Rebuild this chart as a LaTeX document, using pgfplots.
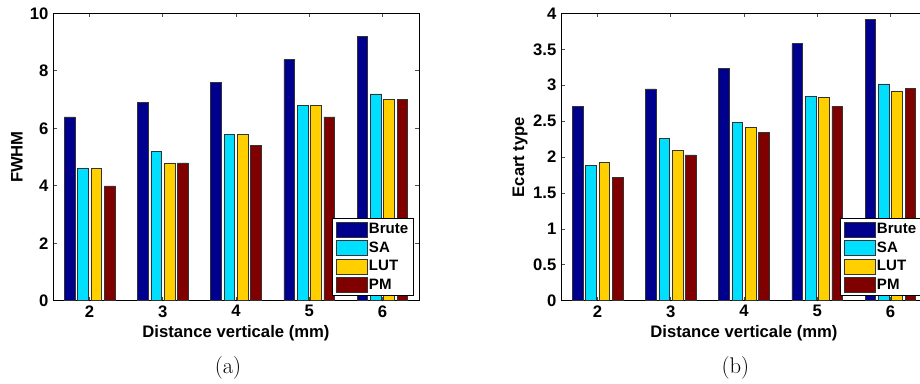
\documentclass[border=0pt]{standalone}
\usepackage{fontspec}
\usepackage{pgfplots}
\pgfplotsset{compat=1.18}
\newfontfamily\hv{Liberation Sans}
\definecolor{cBrute}{rgb}{0,0,0.5625}
\definecolor{cSA}{rgb}{0,0.875,1}
\definecolor{cLUT}{rgb}{1,0.8125,0}
\definecolor{cPM}{rgb}{0.5,0,0}
\pgfplotsset{
 myaxis/.style={
  scale only axis, width=274.5pt, height=215.5pt,
  xmin=1.5, xmax=6.5, ymin=0,
  xtick={2,3,4,5,6},
  ybar=2pt, bar width=8pt,
  tick pos=both, tick align=inside,
  major tick length=3pt,
  axis line style={line width=0.75pt},
  every tick/.style={black!70, line width=0.6pt},
  ticklabel style={font=\hv\bfseries\fontsize{12.5}{14}\selectfont},
  /pgf/number format/assume math mode=true,
  label style={font=\hv\bfseries\fontsize{12.5}{14}\selectfont},
  xlabel style={at={(axis description cs:0.5,-0.112)}, anchor=center},
  legend style={font=\hv\bfseries\fontsize{11.3}{13}\selectfont,
    at={(0.986,0.016)}, anchor=south east, draw=black, line width=0.75pt,
    fill=white, inner xsep=2.5pt, inner ysep=2pt, row sep=2pt,
    nodes={inner sep=1.3pt}},
  legend cell align=left,
  legend image code/.code={\draw[##1, line width=0.5pt] (0pt,-5.6pt) rectangle (23pt,5.6pt);},
 }
}
\begin{document}
\begin{tikzpicture}
\begin{axis}[myaxis, at={(39.75pt,61.7pt)}, anchor=south west,
  ymax=10, ytick={0,2,4,6,8,10},
  ylabel={FWHM},
  ylabel style={at={(axis description cs:-0.099,0.5)}, anchor=center},
  xlabel={Distance verticale (mm)}]
\addplot[fill=cBrute, draw=black!80, line width=0.4pt] coordinates {(2,6.4) (3,6.9) (4,7.6) (5,8.4) (6,9.2)};
\addplot[fill=cSA, draw=black!80, line width=0.4pt] coordinates {(2,4.6) (3,5.2) (4,5.8) (5,6.8) (6,7.2)};
\addplot[fill=cLUT, draw=black!80, line width=0.4pt] coordinates {(2,4.6) (3,4.8) (4,5.8) (5,6.8) (6,7.0)};
\addplot[fill=cPM, draw=black!80, line width=0.4pt] coordinates {(2,4.0) (3,4.8) (4,5.4) (5,6.4) (6,7.0)};
\legend{Brute,SA,LUT,PM}
\end{axis}
\begin{axis}[myaxis, at={(420.75pt,61.7pt)}, anchor=south west,
  ymax=4, ytick={0,0.5,1,1.5,2,2.5,3,3.5,4},
  ylabel={Ecart type},
  ylabel style={at={(axis description cs:-0.112,0.5)}, anchor=center},
  xlabel={Distance verticale (mm)}]
\addplot[fill=cBrute, draw=black!80, line width=0.4pt] coordinates {(2,2.71) (3,2.95) (4,3.23) (5,3.58) (6,3.92)};
\addplot[fill=cSA, draw=black!80, line width=0.4pt] coordinates {(2,1.88) (3,2.26) (4,2.48) (5,2.85) (6,3.02)};
\addplot[fill=cLUT, draw=black!80, line width=0.4pt] coordinates {(2,1.93) (3,2.09) (4,2.41) (5,2.83) (6,2.92)};
\addplot[fill=cPM, draw=black!80, line width=0.4pt] coordinates {(2,1.72) (3,2.03) (4,2.34) (5,2.71) (6,2.96)};
\legend{Brute,SA,LUT,PM}
\end{axis}
\node[font=\fontsize{17}{20}\selectfont] at (171pt,11.25pt) {(a)};
\node[font=\fontsize{17}{20}\selectfont] at (551.5pt,11.25pt) {(b)};
\pgfresetboundingbox
\path[use as bounding box] (0,0) rectangle (690pt,287.25pt);
\end{tikzpicture}
\end{document}
